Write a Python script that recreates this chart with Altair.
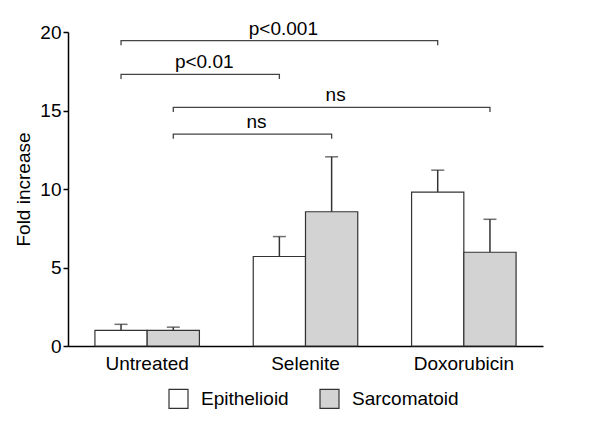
import altair as alt
import pandas as pd

treatments = ["Untreated", "Selenite", "Doxorubicin"]
groups = ["Epithelioid", "Sarcomatoid"]
epi_mean = [1.0, 5.7, 9.8]
epi_err = [0.38, 1.27, 1.4]
sar_mean = [1.0, 8.55, 5.97]
sar_err = [0.2, 3.5, 2.1]

brk_label = ["p<0.001", "p<0.01", "ns", "ns"]
brk_from = [("Untreated", "Epithelioid"), ("Untreated", "Epithelioid"),
            ("Untreated", "Sarcomatoid"), ("Untreated", "Sarcomatoid")]
brk_to = [("Doxorubicin", "Epithelioid"), ("Selenite", "Epithelioid"),
          ("Doxorubicin", "Sarcomatoid"), ("Selenite", "Sarcomatoid")]
brk_level = [19.45, 17.3, 15.2, 13.5]
brk_drop = 0.3

PAD_INNER = 0.34
PAD_OUTER = 0.17
FONT = "Liberation Sans"
FS = 19

rows = []
for i, t in enumerate(treatments):
    rows.append(dict(treatment=t, group=groups[0], mean=epi_mean[i], top=epi_mean[i] + epi_err[i]))
    rows.append(dict(treatment=t, group=groups[1], mean=sar_mean[i], top=sar_mean[i] + sar_err[i]))
df = pd.DataFrame(rows)

# bracket positions on a linear scale aligned with the band scale
off = (1 - PAD_INNER) / 4
def pos(tg):
    t, g = tg
    return treatments.index(t) + (-off if g == groups[0] else off)

line_rows, text_rows = [], []
for k in range(len(brk_label)):
    a, b, lv = pos(brk_from[k]), pos(brk_to[k]), brk_level[k]
    for s, (px, py) in enumerate([(a, lv - brk_drop), (a, lv), (b, lv), (b, lv - brk_drop)]):
        line_rows.append(dict(id=k, seq=s, pos=px, val=py))
    text_rows.append(dict(label=brk_label[k], pos=(a + b) / 2, val=lv))
df_line = pd.DataFrame(line_rows)
df_text = pd.DataFrame(text_rows)

y_axis = alt.Axis(title="Fold increase", values=[0, 5, 10, 15, 20], grid=False,
                  tickSize=5, tickColor="black", tickWidth=1.5, domainColor="black",
                  domainWidth=1.5, labelFontSize=FS, labelColor="black", labelPadding=2,
                  titleFontSize=FS, titleFontWeight="normal", titleColor="black",
                  titlePadding=6, labelFont=FONT, titleFont=FONT)
y_scale = alt.Scale(domain=[0, 20], nice=False)

x_band = alt.X("treatment:N", sort=treatments,
               scale=alt.Scale(domain=treatments, paddingInner=PAD_INNER, paddingOuter=PAD_OUTER),
               axis=alt.Axis(title=None, labelAngle=0, ticks=False, labelFontSize=FS,
                             labelColor="black", labelPadding=8, domainColor="black",
                             domainWidth=1.5, labelFont=FONT))
x_off = alt.XOffset("group:N", sort=groups,
                    scale=alt.Scale(domain=groups, paddingInner=0, paddingOuter=0))

base = alt.Chart(df)
bars = base.mark_bar(stroke="#333333", strokeWidth=1.2).encode(
    x=x_band, xOffset=x_off,
    y=alt.Y("mean:Q", scale=y_scale, axis=y_axis),
    fill=alt.Fill("group:N", scale=alt.Scale(domain=groups, range=["white", "#d3d3d3"]),
                  legend=alt.Legend(title=None, orient="none", legendX=100, legendY=356,
                                    direction="horizontal", symbolType="square",
                                    symbolSize=361, symbolStrokeColor="#333333",
                                    symbolStrokeWidth=1.2, labelFontSize=FS,
                                    labelColor="black", labelFont=FONT, labelOffset=12,
                                    columnPadding=28)),
)
err = base.mark_rule(color="#333333", strokeWidth=1.5).encode(
    x=x_band, xOffset=x_off,
    y=alt.Y("mean:Q", scale=y_scale, axis=y_axis), y2="top:Q",
)
caps = base.mark_tick(color="#333333", thickness=1.5, size=13, orient="horizontal").encode(
    x=x_band, xOffset=x_off,
    y=alt.Y("top:Q", scale=y_scale, axis=y_axis),
)

x_lin = alt.Scale(domain=[-0.5, 2.5], nice=False, zero=False)
brackets = alt.Chart(df_line).mark_line(color="#444444", strokeWidth=1.3).encode(
    x=alt.X("pos:Q", scale=x_lin, axis=None),
    y=alt.Y("val:Q", scale=y_scale, axis=y_axis),
    detail="id:N", order="seq:Q",
)
labels = alt.Chart(df_text).mark_text(fontSize=FS, font=FONT, color="black",
                                      baseline="alphabetic", dy=-6, dx=4).encode(
    x=alt.X("pos:Q", scale=x_lin, axis=None),
    y=alt.Y("val:Q", scale=y_scale, axis=y_axis),
    text="label:N",
)

chart = alt.layer(
    alt.layer(bars, err, caps),
    alt.layer(brackets, labels),
).resolve_scale(x="independent").properties(
    width=475, height=314, autosize="none",
    padding={"left": 60, "top": 24, "right": 41, "bottom": 67},
    background="white",
).configure(font=FONT).configure_view(stroke=None)

chart.save("out.html", embed_options={"renderer": "svg", "actions": False})
